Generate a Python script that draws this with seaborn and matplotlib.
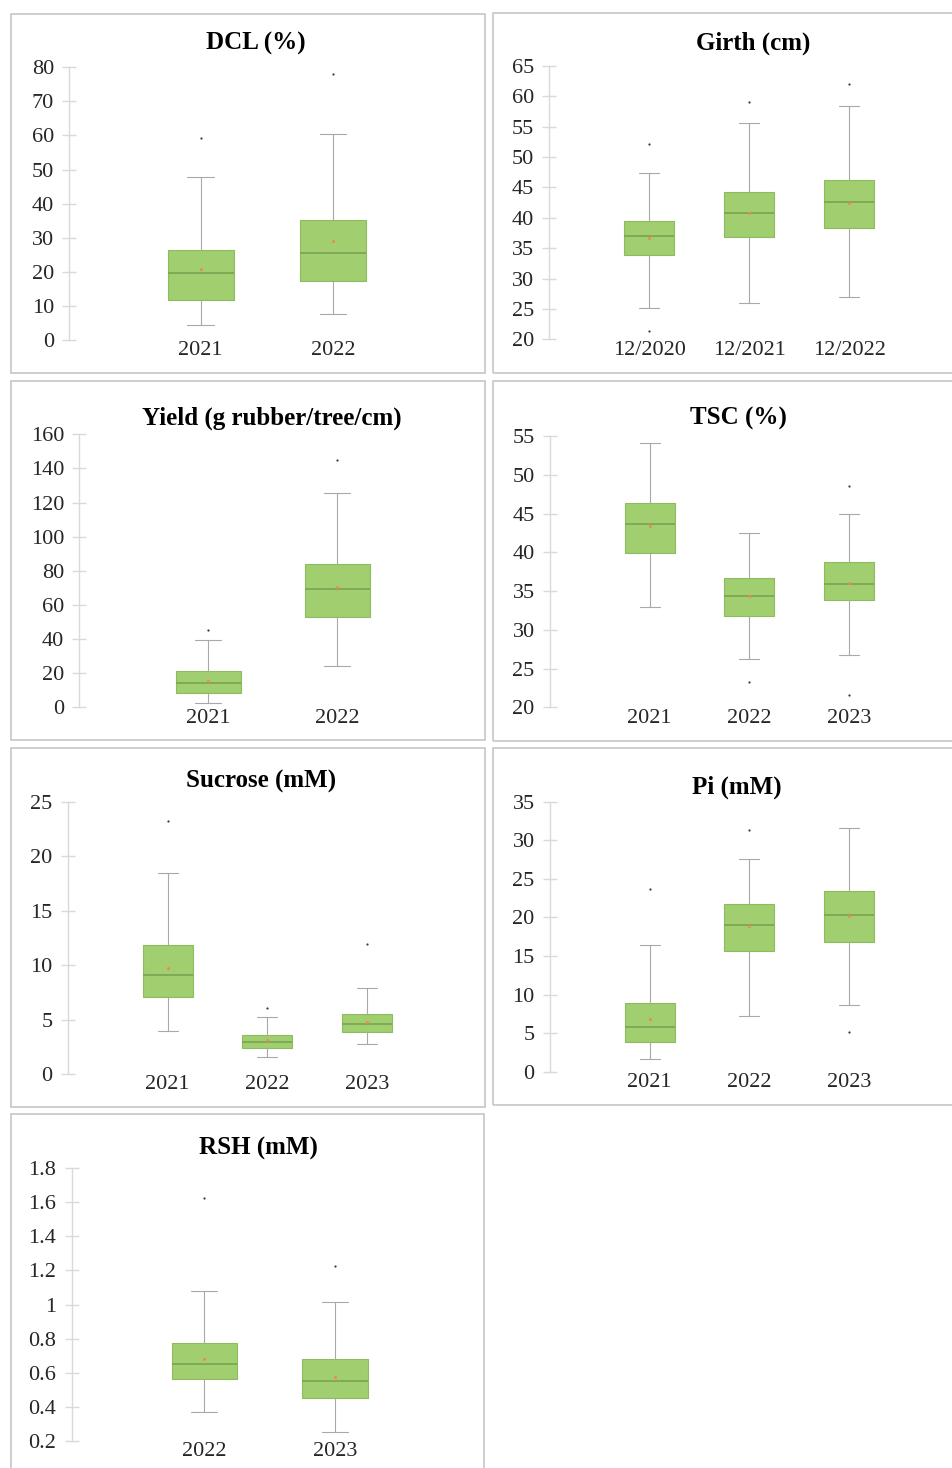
import numpy as np
import matplotlib
matplotlib.use("Agg")
import matplotlib.pyplot as plt
import seaborn as sns
from matplotlib.patches import Rectangle
from matplotlib.ticker import FuncFormatter

# ---- data (box stats per group) ----
dcl_groups = ["2021", "2022"]
dcl_whislo = [4.4, 7.7]
dcl_q1 = [11.7, 17.2]
dcl_med = [19.6, 25.4]
dcl_q3 = [26.5, 35.3]
dcl_whishi = [47.7, 60.5]
dcl_mean = [20.7, 29.0]
dcl_fliers = [[59.3], [77.9]]

girth_groups = ["12/2020", "12/2021", "12/2022"]
girth_whislo = [25.2, 26.0, 26.9]
girth_q1 = [33.8, 36.8, 38.4]
girth_med = [37.0, 40.8, 42.6]
girth_q3 = [39.5, 44.3, 46.3]
girth_whishi = [47.3, 55.6, 58.4]
girth_mean = [36.7, 40.8, 42.5]
girth_fliers = [[52.2, 21.4], [59.1], [62.0]]

yield_groups = ["2021", "2022"]
yield_whislo = [2.7, 24.2]
yield_q1 = [8.6, 53.1]
yield_med = [14.1, 69.5]
yield_q3 = [21.1, 84.0]
yield_whishi = [39.7, 125.6]
yield_mean = [15.6, 70.7]
yield_fliers = [[45.3], [145.1]]

tsc_groups = ["2021", "2022", "2023"]
tsc_whislo = [32.9, 26.2, 26.75]
tsc_q1 = [39.9, 31.8, 33.8]
tsc_med = [43.6, 34.4, 35.9]
tsc_q3 = [46.4, 36.7, 38.7]
tsc_whishi = [54.1, 42.5, 44.9]
tsc_mean = [43.4, 34.3, 36.1]
tsc_fliers = [[], [23.2], [48.6, 21.6]]

suc_groups = ["2021", "2022", "2023"]
suc_whislo = [3.95, 1.59, 2.72]
suc_q1 = [7.04, 2.42, 3.86]
suc_med = [9.06, 2.91, 4.56]
suc_q3 = [11.81, 3.58, 5.48]
suc_whishi = [18.45, 5.23, 7.86]
suc_mean = [9.70, 3.09, 4.80]
suc_fliers = [[23.26], [6.09], [11.96]]

pi_groups = ["2021", "2022", "2023"]
pi_whislo = [1.69, 7.26, 8.64]
pi_q1 = [3.80, 15.69, 16.85]
pi_med = [5.83, 18.97, 20.35]
pi_q3 = [8.94, 21.78, 23.42]
pi_whishi = [16.42, 27.61, 31.63]
pi_mean = [6.83, 18.88, 20.18]
pi_fliers = [[23.68], [31.28], [5.10]]

rsh_groups = ["2022", "2023"]
rsh_whislo = [0.370, 0.249]
rsh_q1 = [0.560, 0.449]
rsh_med = [0.650, 0.551]
rsh_q3 = [0.776, 0.678]
rsh_whishi = [1.077, 1.015]
rsh_mean = [0.678, 0.572]
rsh_fliers = [[1.624], [1.224]]

# ---- style ----
sns.set_style("white")
plt.rcParams["font.family"] = ["Liberation Serif", "DejaVu Serif"]

GREEN = "#A1CE6E"
EDGE = "#8DBB60"
MEDIAN = "#76A04E"
GREY = "#A8A8A8"
AXIS = "#D9D9D9"
TEXT = "#262626"

W, H = 952, 1468
fig = plt.figure(figsize=(W / 100, H / 100), dpi=100)


def frame(x0, y0, x1, y1):
    fig.patches.append(Rectangle((x0 / W, 1 - y1 / H), (x1 - x0) / W, (y1 - y0) / H,
                                 transform=fig.transFigure, fill=False,
                                 edgecolor="#C6C6C6", linewidth=1.2))


def panel(title, title_xy, groups, whislo, q1, med, q3, whishi, mean, fliers,
          yticks, axis_x, c0, step, top, bottom, right):
    ax = fig.add_axes([axis_x / W, 1 - bottom / H, (right - axis_x) / W, (bottom - top) / H])
    stats = []
    for i, g in enumerate(groups):
        stats.append(dict(label=g, whislo=whislo[i], q1=q1[i], med=med[i], q3=q3[i],
                          whishi=whishi[i], mean=mean[i], fliers=fliers[i]))
    ax.bxp(stats, positions=np.arange(len(groups)), widths=0.5, capwidths=0.2,
           patch_artist=True, showmeans=True,
           boxprops=dict(facecolor=GREEN, edgecolor=EDGE, linewidth=0.8),
           medianprops=dict(color=MEDIAN, linewidth=1.1),
           whiskerprops=dict(color=GREY, linewidth=0.8),
           capprops=dict(color=GREY, linewidth=0.8),
           flierprops=dict(marker="o", markersize=1.6, markerfacecolor="#3A3A3A",
                           markeredgecolor="none"),
           meanprops=dict(marker="o", markersize=2.2, markerfacecolor="#EE8A4E",
                          markeredgecolor="none"))
    ax.set_xlim((axis_x - c0) / step, (right - c0) / step)
    ax.set_ylim(yticks[0], yticks[-1])
    ax.set_yticks(yticks)
    ax.yaxis.set_major_formatter(FuncFormatter(lambda v, p: f"{v:g}"))
    sns.despine(ax=ax, top=True, right=True, bottom=True)
    ax.spines["left"].set_color(AXIS)
    ax.spines["left"].set_linewidth(1.0)
    ax.tick_params(axis="y", left=True, direction="inout", length=10, width=1.0,
                   color=AXIS, pad=6, labelsize=16, labelcolor=TEXT)
    ax.tick_params(axis="x", bottom=False, length=0, pad=1, labelsize=16, labelcolor=TEXT)
    ax.set_facecolor("none")
    fig.text(title_xy[0] / W, 1 - title_xy[1] / H, title, ha="center", va="center",
             fontsize=18, fontweight="bold", color="black")
    return ax


frame(10.5, 14, 485, 373)
panel("DCL (%)", (256, 43), dcl_groups, dcl_whislo, dcl_q1, dcl_med, dcl_q3, dcl_whishi,
      dcl_mean, dcl_fliers, np.arange(0, 81, 10), 69.3, 200.7, 132.3, 67.3, 340, 470)

frame(492.7, 12.7, 970, 372.7)
panel("Girth (cm)", (753, 43), girth_groups, girth_whislo, girth_q1, girth_med, girth_q3,
      girth_whishi, girth_mean, girth_fliers, np.arange(20, 66, 5),
      549.3, 649.3, 100, 66, 339.3, 945)

frame(10.5, 381, 485, 740)
panel("Yield (g rubber/tree/cm)", (272, 418), yield_groups, yield_whislo, yield_q1, yield_med,
      yield_q3, yield_whishi, yield_mean, yield_fliers, np.arange(0, 161, 20),
      79.3, 208.3, 129, 434.3, 707.3, 470)

frame(492.7, 381, 970, 741)
panel("TSC (%)", (738, 418), tsc_groups, tsc_whislo, tsc_q1, tsc_med, tsc_q3, tsc_whishi,
      tsc_mean, tsc_fliers, np.arange(20, 56, 5), 550, 649.7, 99.6, 436, 707.3, 945)

frame(10.5, 747.7, 485, 1106.7)
panel("Sucrose (mM)", (261, 781), suc_groups, suc_whislo, suc_q1, suc_med, suc_q3, suc_whishi,
      suc_mean, suc_fliers, np.arange(0, 26, 5), 67.7, 167.7, 99.5, 801.7, 1074, 470)

frame(492.7, 748, 970, 1105)
panel("Pi (mM)", (737, 787), pi_groups, pi_whislo, pi_q1, pi_med, pi_q3, pi_whishi,
      pi_mean, pi_fliers, np.arange(0, 36, 5), 550, 649.7, 99.6, 801.7, 1071.7, 945)

frame(10.5, 1114, 484, 1480)
panel("RSH (mM)", (258, 1148), rsh_groups, rsh_whislo, rsh_q1, rsh_med, rsh_q3, rsh_whishi,
      rsh_mean, rsh_fliers, np.round(np.arange(0.2, 1.81, 0.2), 1),
      71.7, 204.3, 130.7, 1168.3, 1440.7, 470)

fig.savefig("out.png", dpi=100, facecolor="white")
